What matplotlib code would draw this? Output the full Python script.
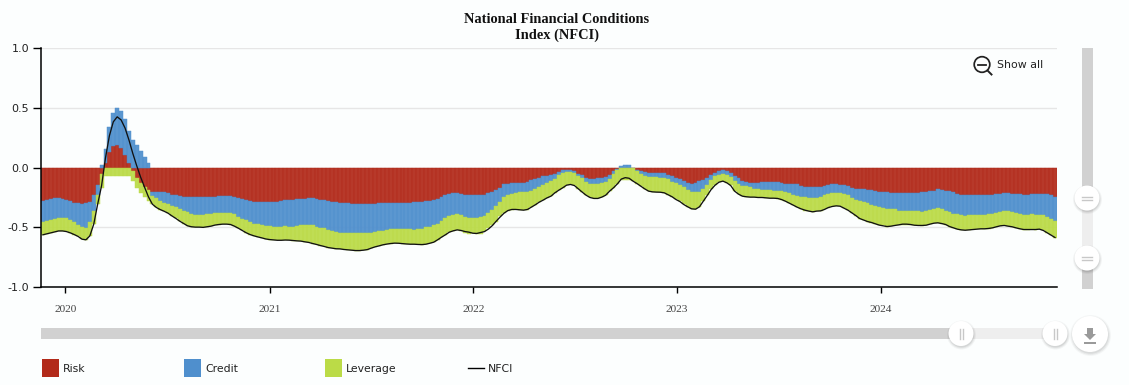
import matplotlib
matplotlib.use("Agg")
import matplotlib.pyplot as plt
import matplotlib.dates as mdates
from matplotlib.patches import Circle, Rectangle
import numpy as np
import pandas as pd

title = "National Financial Conditions\nIndex (NFCI)"
dates = pd.date_range("2019-11-22", periods=260, freq="7D")
year_ticks = ["2020", "2021", "2022", "2023", "2024"]
y_ticks = [-1.0, -0.5, 0.0, 0.5, 1.0]

risk = [-.282,-.273,-.265,-.259,-.259,-.265,-.273,-.284,-.293,-.298,-.304,-.301,-.287,-.226,-.148,
 -.056,.036,.126,.176,.187,.167,.103,.036,-.028,-.092,-.126,-.167,-.190,
 -.201,-.206,-.206,-.209,-.215,-.226,-.234,-.237,-.243,-.245,-.245,-.245,-.245,
 -.245,-.245,-.245,-.243,-.240,-.237,-.237,-.240,-.248,-.257,-.262,-.273,-.279,-.285,-.285,-.285,-.285,-.285,-.285,-.285,
 -.282,-.273,-.271,-.271,-.265,-.262,-.262,-.259,-.259,-.262,-.268,-.276,-.279,-.285,-.287,-.293,-.296,-.301,-.304,
 -.307,-.307,-.307,-.307,-.307,-.304,-.301,-.301,-.301,-.301,-.298,-.296,-.296,-.296,-.293,-.290,-.287,-.285,
 -.282,-.279,-.273,-.265,-.245,-.226,-.218,-.212,-.212,-.220,-.229,-.232,-.232,-.232,-.226,-.226,-.212,-.204,-.187,-.170,
 -.140,-.134,-.128,-.128,-.128,-.128,-.123,-.106,-.098,-.086,-.073,-.067,-.061,-.053,-.036,-.025,-.020,-.025,-.033,-.053,
 -.064,-.089,-.098,-.100,-.092,-.086,-.078,-.059,-.033,-.011,0.0,0.0,0.0,-.006,-.020,
 -.031,-.039,-.045,-.045,-.042,-.042,-.050,-.061,-.073,-.086,-.100,-.117,-.128,-.134,-.128,-.117,-.103,-.086,-.061,-.042,
 -.031,-.025,-.033,-.047,-.070,-.089,-.109,-.120,-.128,-.128,-.128,-.123,-.120,-.120,-.120,-.123,-.131,-.134,-.137,-.142,
 -.142,-.151,-.159,-.159,-.159,-.159,-.159,-.153,-.145,-.142,-.142,-.145,-.148,-.156,-.170,-.176,-.184,
 -.184,-.187,-.187,-.195,-.201,-.206,-.209,-.212,-.212,-.212,-.212,-.212,-.212,-.212,-.212,-.204,-.204,-.198,-.195,-.184,
 -.190,-.193,-.195,-.209,-.223,-.226,-.229,-.234,-.234,-.234,-.234,-.232,-.229,-.226,-.220,-.218,-.212,-.215,-.220,-.220,
 -.223,-.229,-.229,-.220,-.218,-.218,-.218,-.223,-.234,-.248]

credit = [-.170,-.173,-.173,-.170,-.165,-.159,-.153,-.153,-.162,-.179,-.195,-.204,-.173,-.140,-.078,
 .017,.117,.212,.279,.310,.304,.301,.268,.229,.187,.134,.086,.036,
 -.036,-.050,-.073,-.084,-.092,-.095,-.100,-.109,-.117,-.131,-.145,-.153,-.153,
 -.153,-.148,-.142,-.139,-.142,-.145,-.145,-.142,-.145,-.156,-.167,-.170,-.179,-.184,-.190,-.195,-.201,-.206,-.209,-.215,
 -.218,-.220,-.223,-.223,-.226,-.223,-.223,-.226,-.226,-.234,-.237,-.234,-.243,-.245,-.251,-.251,-.248,-.245,-.243,
 -.243,-.243,-.243,-.243,-.237,-.234,-.229,-.229,-.220,-.215,-.215,-.215,-.215,-.218,-.223,-.229,-.226,-.226,
 -.220,-.215,-.209,-.204,-.201,-.198,-.192,-.187,-.181,-.178,-.184,-.187,-.190,-.190,-.192,-.176,-.167,-.153,-.137,-.120,
 -.109,-.092,-.092,-.089,-.078,-.078,-.081,-.087,-.081,-.078,-.070,-.061,-.056,-.042,-.028,-.025,-.020,-.014,-.017,-.020,
 -.028,-.033,-.036,-.042,-.050,-.047,-.045,-.036,-.025,-.014,.011,.025,.017,-.002,-.011,
 -.020,-.028,-.033,-.036,-.039,-.042,-.042,-.039,-.045,-.047,-.045,-.047,-.061,-.070,-.078,-.087,-.075,-.059,-.045,-.031,
 -.031,-.031,-.031,-.036,-.047,-.045,-.042,-.036,-.039,-.050,-.056,-.064,-.067,-.070,-.073,-.070,-.067,-.072,-.078,-.087,
 -.095,-.095,-.092,-.095,-.095,-.095,-.092,-.081,-.078,-.075,-.073,-.070,-.075,-.078,-.089,-.095,-.098,
 -.103,-.112,-.123,-.123,-.128,-.131,-.137,-.139,-.139,-.148,-.148,-.148,-.151,-.156,-.156,-.165,-.162,-.156,-.151,-.159,
 -.159,-.167,-.179,-.176,-.170,-.170,-.173,-.167,-.167,-.167,-.167,-.167,-.162,-.162,-.159,-.153,-.156,-.153,-.153,-.162,
 -.167,-.165,-.165,-.173,-.176,-.176,-.181,-.190,-.198,-.201]

leverage = [-.112,-.109,-.109,-.109,-.106,-.106,-.109,-.109,-.106,-.100,-.100,-.100,-.112,-.109,-.081,
 -.114,-.073,-.073,-.073,-.073,-.073,-.073,-.073,-.084,-.081,-.089,-.084,-.092,
 -.070,-.078,-.073,-.073,-.075,-.084,-.092,-.103,-.109,-.112,-.106,-.100,-.100,
 -.103,-.103,-.103,-.100,-.095,-.092,-.092,-.095,-.098,-.095,-.098,-.103,-.103,-.103,-.106,-.109,-.112,-.112,-.112,-.109,
 -.109,-.114,-.114,-.117,-.123,-.131,-.137,-.142,-.151,-.148,-.148,-.151,-.148,-.145,-.142,-.137,-.142,-.142,-.145,
 -.145,-.145,-.142,-.137,-.131,-.126,-.126,-.117,-.120,-.120,-.120,-.123,-.126,-.126,-.126,-.123,-.131,-.134,
 -.139,-.140,-.142,-.137,-.137,-.139,-.131,-.131,-.128,-.131,-.134,-.134,-.128,-.131,-.135,-.129,-.125,-.124,-.131,-.117,
 -.134,-.134,-.134,-.134,-.148,-.151,-.148,-.140,-.134,-.126,-.131,-.126,-.123,-.117,-.126,-.120,-.109,-.103,-.100,-.106,
 -.114,-.109,-.117,-.117,-.117,-.114,-.109,-.103,-.112,-.112,-.108,-.105,-.105,-.108,-.103,
 -.106,-.112,-.120,-.123,-.126,-.123,-.120,-.128,-.128,-.134,-.139,-.145,-.139,-.142,-.142,-.126,-.103,-.089,-.078,-.075,
 -.061,-.059,-.064,-.067,-.081,-.089,-.089,-.089,-.081,-.070,-.067,-.064,-.067,-.067,-.064,-.067,-.070,-.076,-.084,-.086,
 -.095,-.100,-.109,-.114,-.117,-.114,-.114,-.117,-.112,-.109,-.106,-.109,-.117,-.123,-.120,-.131,-.145,
 -.153,-.153,-.151,-.153,-.153,-.148,-.148,-.139,-.134,-.123,-.117,-.117,-.114,-.115,-.117,-.117,-.117,-.120,-.120,-.123,
 -.120,-.117,-.120,-.120,-.123,-.126,-.123,-.120,-.117,-.114,-.112,-.114,-.120,-.117,-.117,-.117,-.117,-.123,-.123,-.123,
 -.123,-.125,-.125,-.125,-.125,-.123,-.128,-.134,-.134,-.137]

nfci = [-.563,-.555,-.547,-.539,-.531,-.531,-.536,-.547,-.561,-.577,-.600,-.605,-.572,-.474,-.307,
 -.153,.080,.265,.382,.424,.398,.331,.231,.117,.014,-.081,-.165,-.246,
 -.307,-.334,-.352,-.366,-.382,-.405,-.426,-.449,-.469,-.488,-.496,-.499,-.499,
 -.501,-.496,-.491,-.482,-.477,-.474,-.474,-.477,-.491,-.508,-.527,-.546,-.561,-.572,-.581,-.589,-.598,-.603,-.606,-.609,
 -.609,-.607,-.608,-.611,-.614,-.616,-.622,-.627,-.636,-.644,-.653,-.661,-.670,-.675,-.680,-.681,-.686,-.689,-.692,
 -.695,-.695,-.692,-.687,-.675,-.664,-.656,-.647,-.641,-.636,-.633,-.634,-.637,-.640,-.642,-.642,-.644,-.645,
 -.642,-.634,-.625,-.605,-.583,-.563,-.541,-.530,-.522,-.527,-.536,-.541,-.550,-.552,-.544,-.536,-.515,-.486,-.449,-.414,
 -.382,-.360,-.351,-.351,-.354,-.357,-.351,-.332,-.312,-.290,-.273,-.254,-.240,-.212,-.190,-.170,-.148,-.142,-.151,-.179,
 -.206,-.232,-.251,-.259,-.259,-.248,-.232,-.198,-.170,-.137,-.097,-.085,-.090,-.114,-.134,
 -.156,-.179,-.198,-.204,-.206,-.207,-.212,-.229,-.245,-.268,-.285,-.310,-.329,-.346,-.349,-.329,-.282,-.234,-.184,-.148,
 -.123,-.114,-.128,-.151,-.198,-.223,-.240,-.245,-.248,-.248,-.251,-.251,-.254,-.257,-.257,-.259,-.268,-.282,-.298,-.315,
 -.332,-.346,-.357,-.365,-.371,-.365,-.363,-.351,-.335,-.326,-.321,-.324,-.340,-.357,-.379,-.402,-.427,
 -.440,-.452,-.460,-.471,-.482,-.488,-.494,-.491,-.485,-.480,-.474,-.474,-.477,-.483,-.485,-.485,-.483,-.474,-.466,-.463,
 -.469,-.477,-.494,-.505,-.516,-.522,-.525,-.522,-.519,-.516,-.513,-.513,-.510,-.505,-.496,-.488,-.485,-.491,-.496,-.505,
 -.513,-.519,-.519,-.519,-.519,-.516,-.527,-.547,-.566,-.586]

series = [("Risk", risk, "#B22A1A"), ("Credit", credit, "#4F8FCD"), ("Leverage", leverage, "#BBDB47")]
BG = "#FCFEFE"
W, H = 1129, 385
fig = plt.figure(figsize=(W / 100, H / 100), dpi=100, facecolor=BG)
L, R, T, B = 41, 1057, 48, 287
ax = fig.add_axes([L / W, 1 - B / H, (R - L) / W, (B - T) / H], facecolor=BG)

pos = np.zeros(260)
neg = np.zeros(260)
for name, vals, col in series:
    v = np.array(vals)
    base = np.where(v >= 0, pos, neg)
    ax.bar(dates, v, width=7, bottom=base, color=col, edgecolor=col, linewidth=0.35, alpha=0.93, zorder=2)
    pos += np.clip(v, 0, None)
    neg += np.clip(v, None, 0)
ax.plot(dates, nfci, color="#111111", lw=0.95, zorder=3, solid_joinstyle="round")

half = pd.Timedelta(days=3.5)
ax.set_xlim(dates[0] - half, dates[-1] + half)
ax.set_ylim(-1, 1)
ax.set_yticks(y_ticks)
ax.set_yticklabels([f"{t:.1f}" for t in y_ticks], fontsize=8, color="#222222")
ax.set_xticks([mdates.date2num(pd.Timestamp(y + "-01-01")) for y in year_ticks])
ax.set_xticklabels(year_ticks, fontfamily="Liberation Serif", fontsize=8.2, color="#444444")
ax.tick_params(axis="y", length=5.5, width=1, color="black", pad=3)
ax.tick_params(axis="x", length=4, width=1, color="black", pad=9)
ax.grid(axis="y", color="#E6E6E6", lw=1, zorder=0)
ax.set_axisbelow(True)
for s in ("top", "right"):
    ax.spines[s].set_visible(False)
for s in ("left", "bottom"):
    ax.spines[s].set_color("black")
    ax.spines[s].set_linewidth(1.1)

# overlay in pixel coordinates for title, controls and legend
ov = fig.add_axes([0, 0, 1, 1], facecolor="none", zorder=5)
ov.set_xlim(0, W)
ov.set_ylim(H, 0)
ov.axis("off")

ov.text(557, 27.5, title, ha="center", va="center", fontfamily="Liberation Serif",
        fontweight="bold", fontsize=10.4, color="#111111", linespacing=1.3)

def handle(x, y, r=12.5, orient="h"):
    for k, a in ((3.0, .04), (2.0, .05), (1.0, .07)):
        ov.add_patch(Circle((x + .5, y + 1.5), r + k - 1, fc="black", ec="none", alpha=a, zorder=6))
    ov.add_patch(Circle((x, y), r, fc="white", ec="none", zorder=7))
    if orient == "h":
        ov.plot([x - 5, x + 5], [y - 1.5, y - 1.5], color="#C8C8C8", lw=1, zorder=8)
        ov.plot([x - 5, x + 5], [y + 1.5, y + 1.5], color="#C8C8C8", lw=1, zorder=8)
    else:
        ov.plot([x - 1.5, x - 1.5], [y - 5, y + 5], color="#C8C8C8", lw=1, zorder=8)
        ov.plot([x + 1.5, x + 1.5], [y - 5, y + 5], color="#C8C8C8", lw=1, zorder=8)

# vertical scrollbar
ov.add_patch(Rectangle((1082, 48), 11, 241, fc="#D1D1D1", ec="none", zorder=5))
ov.add_patch(Rectangle((1082, 198), 11, 60, fc="#EEEEEE", ec="none", zorder=5))
handle(1087, 198)
handle(1087, 258)
# horizontal scrollbar
ov.add_patch(Rectangle((41, 328), 920, 11, fc="#D1D1D1", ec="none", zorder=5))
ov.add_patch(Rectangle((961, 328), 95, 11, fc="#EEEEEE", ec="none", zorder=5))
handle(961, 333.5, orient="v")
handle(1055, 333.5, orient="v")
# download button
handle_r = 18
for k, a in ((3.5, .03), (2.4, .05), (1.2, .06)):
    ov.add_patch(Circle((1090.5, 335.5), handle_r + k - 1, fc="black", ec="none", alpha=a, zorder=6))
ov.add_patch(Circle((1090, 334), handle_r, fc="white", ec="none", zorder=7))
ov.add_patch(Rectangle((1087, 328), 6, 6, fc="#9A9A9A", ec="none", zorder=8))
ov.fill([1084, 1096, 1090], [334, 334, 340], color="#9A9A9A", lw=0, zorder=8)
ov.add_patch(Rectangle((1084, 342), 12, 1.6, fc="#9A9A9A", ec="none", zorder=8))

# zoom-out button
ov.add_patch(Circle((982, 64.5), 7.8, fc="none", ec="#222222", lw=1.25, zorder=8))
ov.plot([978, 986], [64.5, 64.5], color="#222222", lw=1.3, zorder=8)
ov.plot([987.5, 991.5], [70.5, 74.5], color="#222222", lw=1.4, zorder=8)
ov.text(997, 65, "Show all", ha="left", va="center", fontsize=7.9, color="#222222")

# legend
for x, (name, _, col), tx in zip((42, 184, 325), series, (63, 205, 346)):
    ov.add_patch(Rectangle((x, 359), 17, 18, fc=col, ec="none"))
    ov.text(tx, 368.5, name, ha="left", va="center", fontsize=7.8, color="#222222")
ov.plot([468, 484], [368, 368], color="black", lw=1)
ov.text(488, 368.5, "NFCI", ha="left", va="center", fontsize=7.8, color="#222222")

fig.savefig("out.png", dpi=100, facecolor=BG)
